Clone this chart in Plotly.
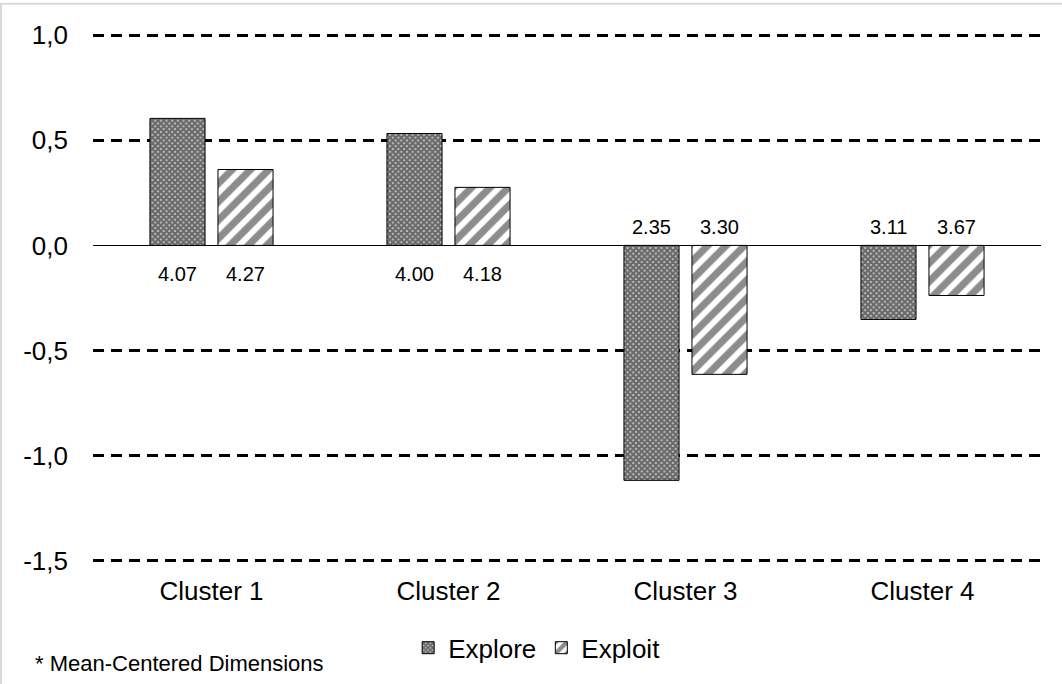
import plotly.graph_objects as go

# Cluster profiles on the two dimensions (mean-centered scores; labels show raw means)
clusters = ["Cluster 1", "Cluster 2", "Cluster 3", "Cluster 4"]
explore_centered = [0.604, 0.532, -1.117, -0.352]
exploit_centered = [0.361, 0.276, -0.613, -0.238]
explore_means = ["4.07", "4.00", "2.35", "3.11"]
exploit_means = ["4.27", "4.18", "3.30", "3.67"]
y_ticks = [-1.5, -1.0, -0.5, 0.0, 0.5, 1.0]
y_tick_labels = ["-1,5", "-1,0", "-0,5", "0,0", "0,5", "1,0"]

FONT = "Liberation Sans, Arial, sans-serif"

fig = go.Figure()
fig.add_trace(go.Bar(
    name="Explore", x=clusters, y=explore_centered,
    marker=dict(color="white", line=dict(color="black", width=1),
                pattern=dict(shape="x", size=4, solidity=0.8,
                             fgcolor="black", bgcolor="#d4d4d4", fillmode="overlay")),
))
fig.add_trace(go.Bar(
    name="Exploit", x=clusters, y=exploit_centered,
    marker=dict(color="white", line=dict(color="black", width=1),
                pattern=dict(shape="/", size=13, solidity=0.55,
                             fgcolor="#1a1a1a", bgcolor="white", fillmode="overlay")),
))

# Raw-mean labels placed at the zero line, below positive bars and above negative ones
half_slot = 34
for values, labels, shift in ((explore_centered, explore_means, -half_slot),
                              (exploit_centered, exploit_means, half_slot)):
    for c, v, t in zip(clusters, values, labels):
        fig.add_annotation(
            x=c, y=0, xref="x", yref="y", text=t, showarrow=False,
            xshift=shift, yshift=-29 if v >= 0 else 18,
            font=dict(family=FONT, size=20, color="black"),
        )

fig.add_annotation(
    text="* Mean-Centered Dimensions", xref="paper", yref="paper",
    x=-0.063, y=-0.19, xanchor="left", yanchor="middle", showarrow=False,
    font=dict(family=FONT, size=22, color="black"),
)

# light frame around the chart area
fig.add_shape(type="rect", xref="paper", yref="paper",
              x0=-0.097, x1=1.05, y0=-0.4, y1=1.055,
              line=dict(color="#d9d9d9", width=2), layer="below")

fig.update_layout(
    width=1062, height=684,
    margin=dict(l=93, r=21, t=33, b=121),
    paper_bgcolor="white", plot_bgcolor="white",
    barmode="group", bargap=0.426, bargroupgap=0.19,
    font=dict(family=FONT, size=26, color="black"),
    showlegend=True,
    legend=dict(orientation="h", x=0.468, xanchor="center", y=-0.16, yanchor="middle",
                font=dict(family=FONT, size=26, color="black"), traceorder="normal"),
    xaxis=dict(showline=False, showgrid=False, zeroline=False, ticks="",
               ticklabelstandoff=10, tickfont=dict(size=26)),
    yaxis=dict(range=[-1.51, 1.01], tickvals=y_ticks, ticktext=y_tick_labels,
               showline=False, showgrid=True, gridcolor="black", gridwidth=2.5,
               griddash="11px,7px", zeroline=True, zerolinecolor="black", zerolinewidth=1,
               ticks="", ticklabelstandoff=24, tickfont=dict(size=26)),
)

fig.write_html("out.html")
